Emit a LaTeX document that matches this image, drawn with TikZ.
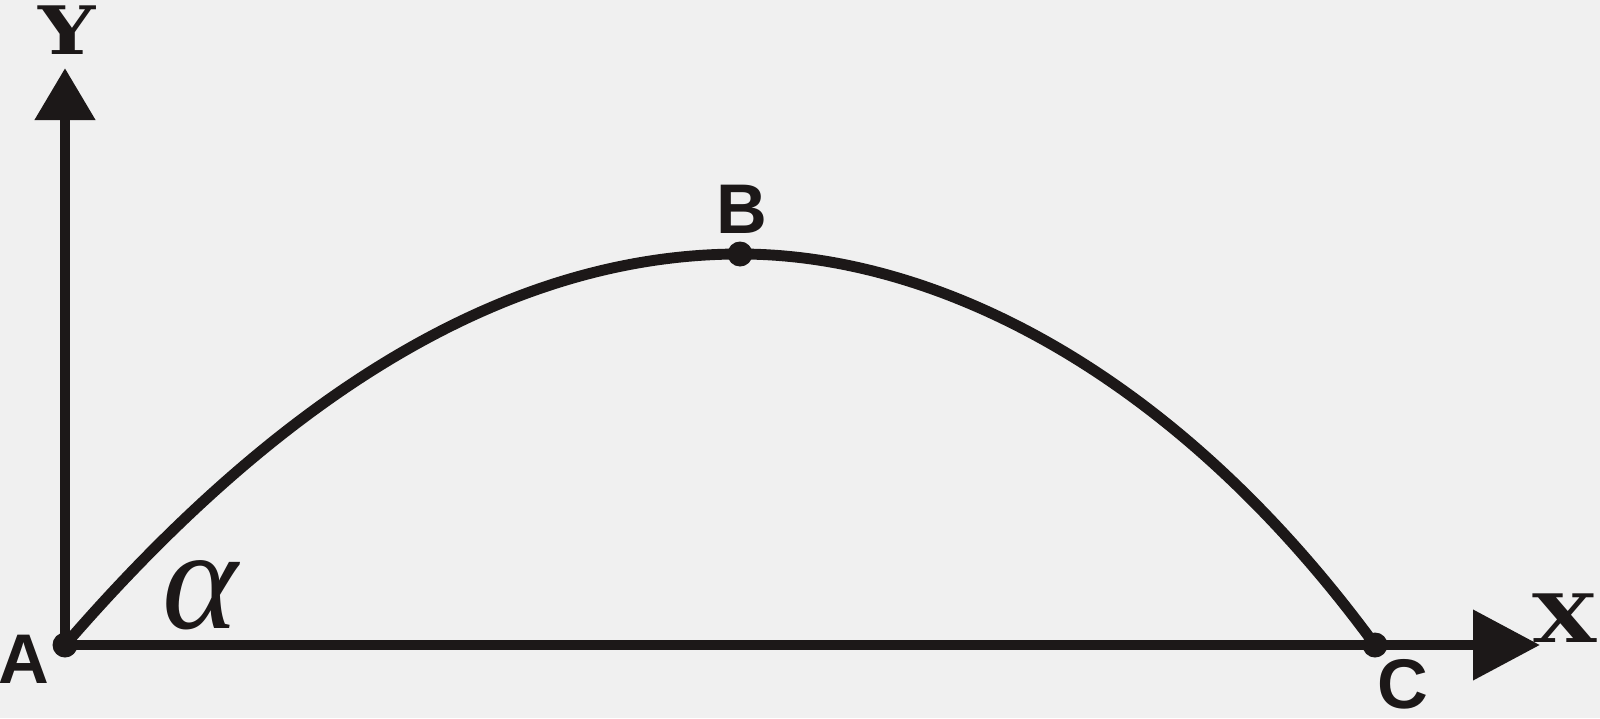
\documentclass[tikz,border=0pt]{standalone}
\usepackage{fontspec}
\usepackage{graphicx}
\setmainfont{Liberation Serif}
\newfontfamily\labfont{Liberation Sans}
\newfontfamily\axfont{DejaVu Serif}
\usetikzlibrary{arrows.meta}
\definecolor{paper}{RGB}{240,240,240}
\definecolor{ink}{RGB}{28,24,24}

\begin{document}
\begin{tikzpicture}[line width=3.1pt, ink,
	pt/.style={circle,fill=ink,inner sep=0pt,minimum size=2.5mm},
	lab/.style={font=\labfont\bfseries\fontsize{20}{20}\selectfont,inner sep=0pt},
	axl/.style={font=\axfont\bfseries\fontsize{19}{19}\selectfont,inner sep=0pt}]
	\fill[paper] (0,0) rectangle (16,7.18);
	\useasboundingbox (0,0) rectangle (16,7.18);

	\coordinate (A) at (0.65,0.73);
	\coordinate (B) at (7.40,4.64);
	\coordinate (C) at (13.75,0.73);
	\coordinate (YE) at (0.65,6.50);
	\coordinate (XE) at (15.40,0.73);

	\draw[-{Triangle[length=5.2mm,width=5.8mm]}] (A) -- (YE);
	\draw[-{Triangle[length=6.7mm,width=6.8mm]}] (A) -- (XE);
	\draw (A) .. controls (2.90,3.33) and (5.15,4.64) .. (B)
		.. controls (9.30,4.64) and (11.70,3.53) .. (C);

	\node[pt] (PA) at (A) {};
	\node[pt] (PB) at (B) {};
	\node[pt] (PC) at (C) {};

	\node[lab] (LA) at (0.24,0.59) {A};
	\node[lab] (LB) at (7.42,5.09) {B};
	\node[lab] (LC) at (14.03,0.34) {C};
	\node[axl] (LX) at (15.65,1.00) {\scalebox{1.25}[1]{X}};
	\node[axl] (LY) at (0.67,6.88) {\scalebox{1.2}[1]{Y}};
	\node[inner sep=0pt,font=\itshape\fontsize{41}{41}\selectfont] (Alpha) at (2.00,1.23) {α};
\end{tikzpicture}
\end{document}
